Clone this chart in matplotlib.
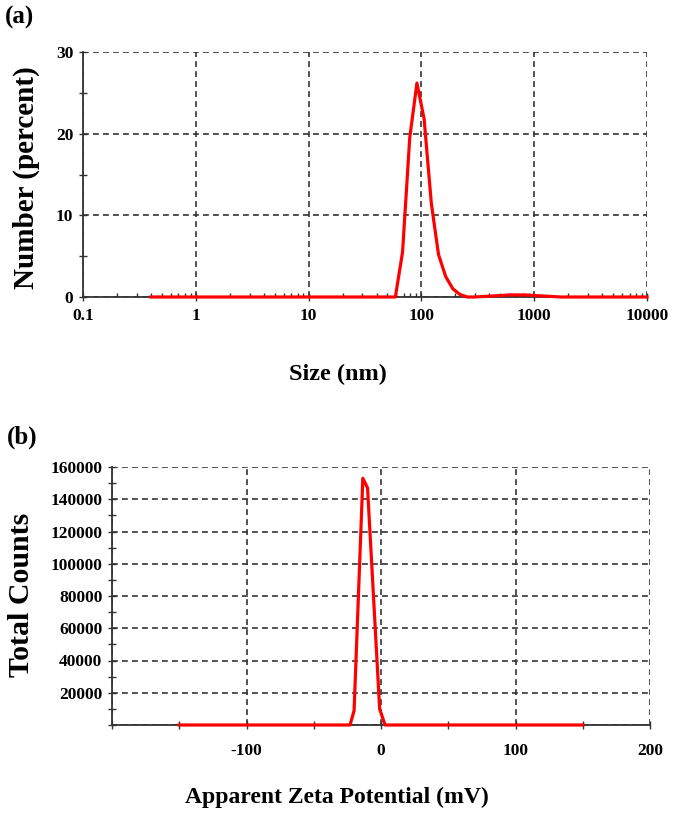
import matplotlib
matplotlib.use("Agg")
import matplotlib.pyplot as plt
from matplotlib.ticker import MultipleLocator, LogLocator, NullFormatter

# (a) number size distribution
size_nm = [0.4, 58.77, 68.06, 78.82, 91.28, 105.7, 122.4, 141.8, 164.2, 190.1,
           220.2, 255.0, 295.3, 342.0, 396.1, 458.7, 531.2, 615.1, 712.4, 825.0,
           955.4, 1106, 1281, 1484, 1718, 10000]
number_pct = [0, 0, 5.5, 19.5, 26.2, 21.8, 11.5, 5.2, 2.5, 1.0,
              0.3, 0, 0, 0.05, 0.1, 0.15, 0.2, 0.25, 0.25, 0.25,
              0.2, 0.15, 0.1, 0.05, 0, 0]

# (b) zeta potential distribution
zeta_mv = [-150, -23, -20, -13.5, -10, -1, 3, 150]
total_counts = [0, 0, 9000, 153000, 147000, 10000, 0, 0]

a_xticks = [0.1, 1, 10, 100, 1000, 10000]
a_xticklabels = ["0.1", "1", "10", "100", "1000", "10000"]
a_yticks = [0, 10, 20, 30]
b_xticks = [-200, -100, 0, 100, 200]
b_xticklabels = ["", "-100", "0", "100", "200"]
b_yticks = [0, 20000, 40000, 60000, 80000, 100000, 120000, 140000, 160000]
b_yticklabels = [""] + [str(v) for v in b_yticks[1:]]

plt.rcParams["font.family"] = ["Liberation Serif", "DejaVu Serif"]
plt.rcParams["font.weight"] = "bold"

W, H = 685, 814
fig = plt.figure(figsize=(W / 100, H / 100), dpi=100)

grid_kw = dict(color="#333333", linewidth=1.2, linestyle=(0, (3.5, 2.5)))
spine_col = "#333333"
tick_fs = 12.5


def px_axes(l, r, t, b):
    return fig.add_axes([l / W, 1 - b / H, (r - l) / W, (b - t) / H])


def style_axes(ax):
    for s in ["top", "right"]:
        ax.spines[s].set_visible(False)
    for s in ["left", "bottom"]:
        ax.spines[s].set_color(spine_col)
        ax.spines[s].set_linewidth(1.3)
    ax.tick_params(which="both", colors=spine_col, labelcolor="black",
                   labelsize=tick_fs, width=1.0)
    ax.grid(True, which="major", **grid_kw)
    ax.set_axisbelow(True)


# ---- panel (a)
ax1 = px_axes(83, 647, 52, 297)
ax1.plot(size_nm, number_pct, color="#ff0000", lw=2.3, clip_on=False, zorder=5)
ax1.set_xscale("log")
ax1.set_xlim(0.1, 10000)
ax1.set_ylim(0, 30)
ax1.set_xticks(a_xticks)
ax1.set_xticklabels(a_xticklabels)
ax1.xaxis.set_minor_locator(LogLocator(base=10, subs=range(2, 10)))
ax1.xaxis.set_minor_formatter(NullFormatter())
ax1.set_yticks(a_yticks)
ax1.yaxis.set_minor_locator(MultipleLocator(5))
style_axes(ax1)
ax1.tick_params(axis="x", which="major", direction="inout", length=6, pad=5)
ax1.tick_params(axis="x", which="minor", direction="in", length=3)
ax1.tick_params(axis="y", which="both", direction="inout", length=6, pad=4)
ax1.set_xlabel("Size (nm)", fontsize=17.5, fontweight="bold", va="center")
ax1.xaxis.set_label_coords(0.452, -0.318)
ax1.set_ylabel("Number (percent)", fontsize=21, fontweight="bold", va="center")
ax1.yaxis.set_label_coords(-0.101, 0.486)
fig.text(20 / W, 1 - 17 / H, "(a)", fontsize=18, fontweight="bold",
         ha="center", va="center")

# ---- panel (b)
ax2 = px_axes(112, 650, 467, 725)
ax2.plot(zeta_mv, total_counts, color="#ff0000", lw=2.3, clip_on=False, zorder=5)
ax2.set_xlim(-200, 200)
ax2.set_ylim(0, 160000)
ax2.set_xticks(b_xticks)
ax2.set_xticklabels(b_xticklabels)
ax2.xaxis.set_minor_locator(MultipleLocator(50))
ax2.set_yticks(b_yticks)
ax2.set_yticklabels(b_yticklabels)
ax2.yaxis.set_minor_locator(MultipleLocator(10000))
style_axes(ax2)
ax2.tick_params(axis="x", which="both", direction="inout", length=6, pad=10)
ax2.tick_params(axis="y", which="both", direction="inout", length=6, pad=4)
ax2.set_xlabel("Apparent Zeta Potential (mV)", fontsize=17, fontweight="bold",
               va="center")
ax2.xaxis.set_label_coords(0.418, -0.279)
ax2.set_ylabel("Total Counts", fontsize=21.5, fontweight="bold", va="center")
ax2.yaxis.set_label_coords(-0.169, 0.504)
fig.text(22 / W, 1 - 437 / H, "(b)", fontsize=18, fontweight="bold",
         ha="center", va="center")

fig.savefig("out.png", dpi=100)
